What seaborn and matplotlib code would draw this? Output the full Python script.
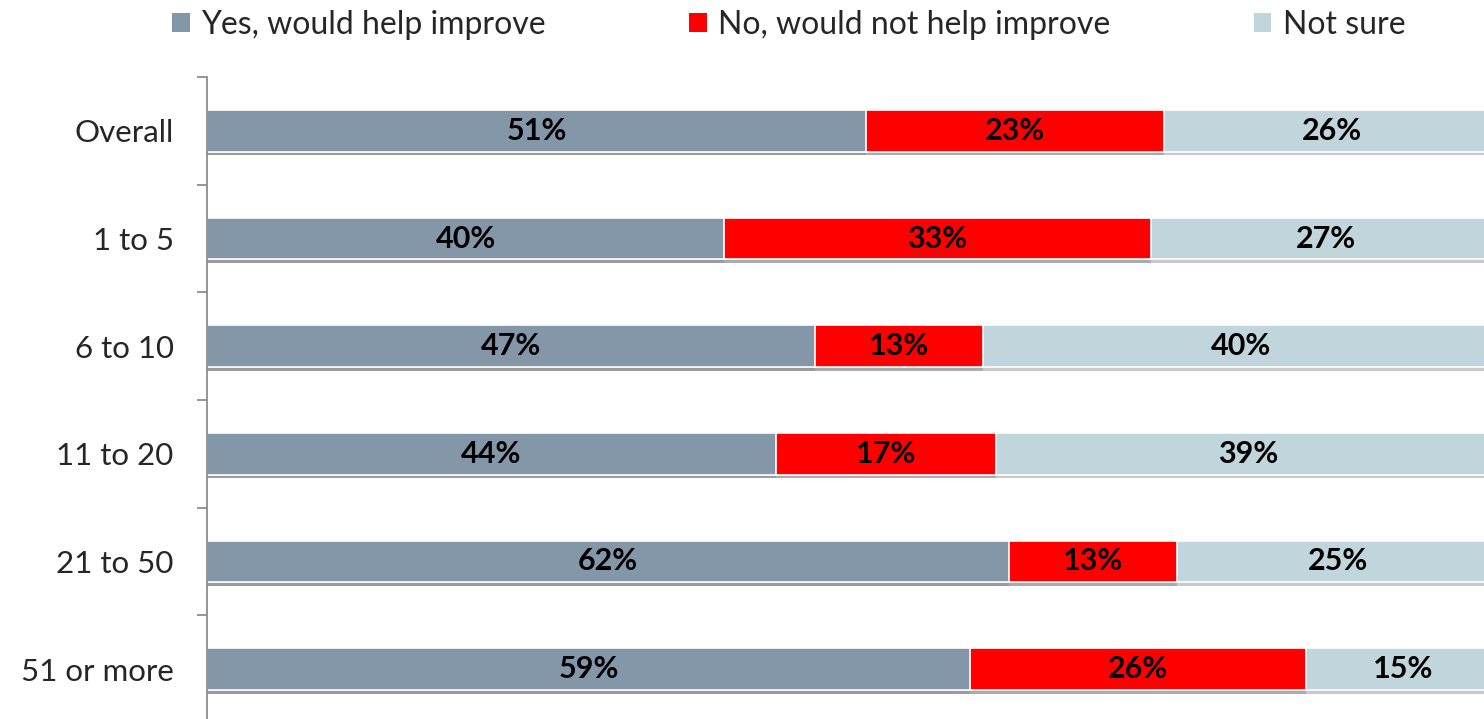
import matplotlib
matplotlib.use("Agg")
import matplotlib.pyplot as plt
import matplotlib.patheffects as pe
from matplotlib.patches import Patch
import numpy as np
import pandas as pd
import seaborn as sns

# data
groups = ["Overall", "1 to 5", "6 to 10", "11 to 20", "21 to 50", "51 or more"]
yes_vals = [51, 40, 47, 44, 62, 59]
no_vals = [23, 33, 13, 17, 13, 26]
unsure_vals = [26, 27, 40, 39, 25, 15]
series_names = ["Yes, would help improve", "No, would not help improve", "Not sure"]
series_colors = ["#8497A8", "#FF0000", "#C1D5DC"]

sns.set_style("white")
plt.rcParams["font.family"] = ["Lato", "DejaVu Sans"]

df = pd.DataFrame({"group": groups, "yes": yes_vals, "no": no_vals, "unsure": unsure_vals})
df["cum_yes"] = df["yes"]
df["cum_no"] = df["yes"] + df["no"]
df["cum_unsure"] = df["cum_no"] + df["unsure"]

fig = plt.figure(figsize=(14.84, 7.19), dpi=100)
# plot area runs a little past the right and bottom edges of the picture
ax = fig.add_axes([207 / 1484, -4 / 719, 1293 / 1484, 646 / 719])

shadow = [pe.SimplePatchShadow(offset=(0, -2.5), shadow_rgbFace="#888888", alpha=0.45),
          pe.Normal()]

# draw from widest to narrowest so segments stack
for col, color in zip(["cum_unsure", "cum_no", "cum_yes"], series_colors[::-1]):
    sns.barplot(data=df, y="group", x=col, orient="h", color=color, width=0.39,
                edgecolor="white", linewidth=1.2, saturation=1, ax=ax)

for p in ax.patches:
    p.set_path_effects(shadow)

# segment labels
for i in range(len(groups)):
    starts = [0, df["cum_yes"][i], df["cum_no"][i]]
    widths = [yes_vals[i], no_vals[i], unsure_vals[i]]
    for s, w in zip(starts, widths):
        ax.text(s + w / 2, i, f"{w}%", ha="center", va="center",
                fontsize=22, fontweight="bold", color="black")

ax.set_xlim(0, 100)
ax.set_ylim(len(groups) - 0.5, -0.5)
ax.set_xlabel("")
ax.set_ylabel("")
ax.set_xticks([])

for side in ["top", "right", "bottom"]:
    ax.spines[side].set_visible(False)
ax.spines["left"].set_color("#8C8C8C")
ax.spines["left"].set_linewidth(1.3)

ax.set_yticks(range(len(groups)))
ax.set_yticklabels(groups, fontsize=22.5)
ax.set_yticks(np.arange(-0.5, len(groups), 1), minor=True)
ax.tick_params(axis="y", which="major", left=True, length=0, pad=24)
ax.tick_params(axis="y", which="minor", left=True, length=7, width=1.3,
               color="#8C8C8C", direction="out")

handles = [Patch(facecolor=c, edgecolor="none") for c in series_colors]
fig.legend(handles, series_names, loc="center left", bbox_to_anchor=(172 / 1484, 1 - 25 / 719),
           ncol=3, frameon=False, fontsize=23, handlelength=0.55, handleheight=0.55,
           handletextpad=0.35, columnspacing=4.5, borderpad=0, borderaxespad=0)

fig.savefig("out.png", dpi=100)
